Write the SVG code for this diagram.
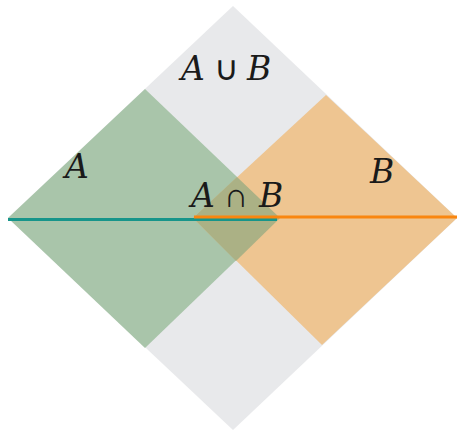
<svg xmlns="http://www.w3.org/2000/svg" width="457" height="433" viewBox="0 0 457 433">
  <style>
    .lbl { font-family: "DejaVu Serif", "Liberation Serif", serif; font-size: 33px; fill: #1a1a1a; }
    .it { font-style: italic; }
    .op { font-family: "DejaVu Sans", sans-serif; font-size: 34px; font-weight: 300; }
  </style>
  <rect width="457" height="433" fill="#ffffff"/>
  <g id="union">
    <polygon points="233,6 457,218 233,430 8,218" fill="#e8e9eb"/>
  </g>
  <g id="setA">
    <polygon points="145,89 280,218 145,348 8,218" fill="#a9c5aa"/>
  </g>
  <g id="setB">
    <polygon points="326,95 457,218 322,345 193,218" fill="#eec591"/>
  </g>
  <g id="intersection">
    <polygon points="193,218 237,177 280,218 236,261" fill="#abb185"/>
  </g>
  <g id="connectors">
    <line x1="8" y1="219.5" x2="277" y2="219.5" stroke="#17958a" stroke-width="3"/>
    <line x1="194" y1="217" x2="457" y2="217" stroke="#f9860f" stroke-width="3"/>
  </g>
  <g id="labels">
    <text class="lbl it" x="181" y="80">A</text>
    <text class="lbl op" x="214" y="80">∪</text>
    <text class="lbl it" x="247" y="80">B</text>
    <text class="lbl it" x="65" y="178">A</text>
    <text class="lbl it" x="370" y="183">B</text>
    <text class="lbl it" x="191" y="207">A</text>
    <text class="lbl op" x="224" y="207">∩</text>
    <text class="lbl it" x="259" y="207">B</text>
  </g>
</svg>
